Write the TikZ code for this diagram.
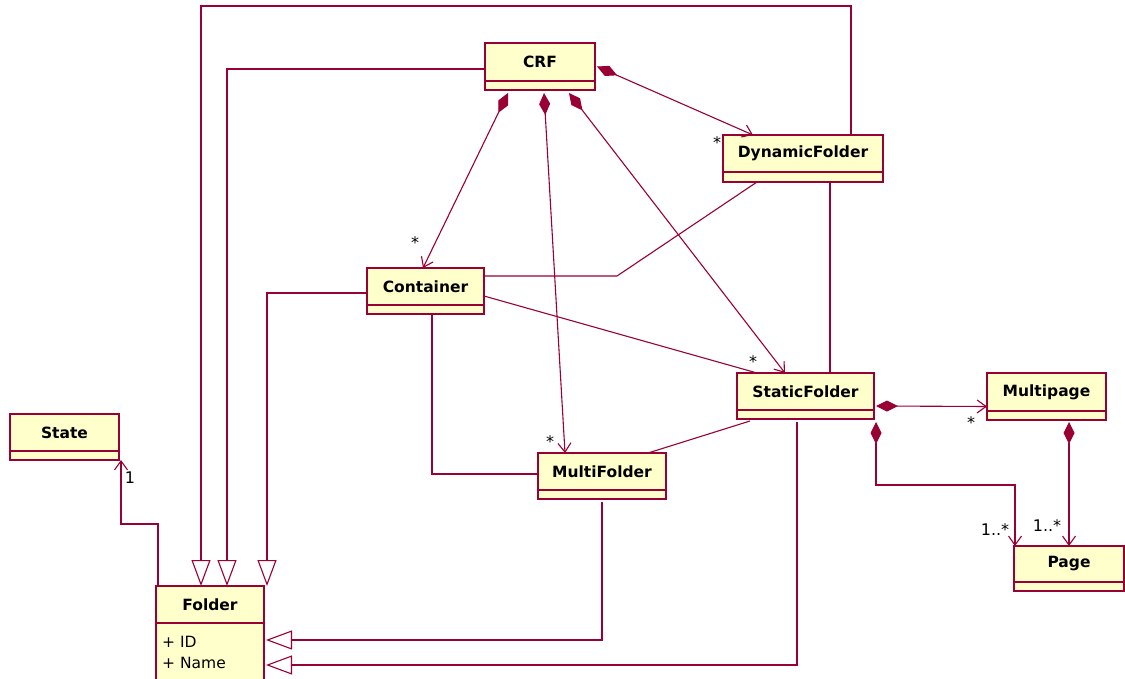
\documentclass[tikz,border=0pt]{standalone}
\usepackage{fontspec}
\setmainfont{DejaVu Sans}
\usetikzlibrary{arrows.meta}
\definecolor{umlred}{RGB}{153,0,51}
\definecolor{umlfill}{RGB}{255,255,204}
\newcommand\umlclass[7]{%
  \node[cls, anchor=north west, minimum width={(#4-#2)*1pt}, minimum height={(#5-#3)*1pt}] (#1) at (#2,#3) {};
  \draw[divider] (#2,#6) -- (#4,#6);
  \node[title] (#1-t) at ({(#2+#4)/2},{(#3+#6)/2}) {#7};
}
\begin{document}
\begin{tikzpicture}[x=1pt,y=-1pt,
  cls/.style={draw=umlred, fill=umlfill, line width=1.2pt, inner sep=0pt, outer sep=0pt},
  divider/.style={draw=umlred, line width=1.2pt},
  title/.style={font=\fontsize{15.5}{18}\selectfont\bfseries, inner sep=0pt},
  attr/.style={font=\fontsize{15.5}{18}\selectfont, inner sep=0pt, anchor=west},
  conn/.style={draw=umlred, line width=1.1pt},
  nav/.style={conn, -{Straight Barb[length=9pt,width=13pt]}},
  comp/.style={conn, {Diamond[length=22pt,width=11pt]}-{Straight Barb[length=9pt,width=13pt]}},
  gen/.style={conn, -{Triangle[open,fill=white,length=26pt,width=19pt]}},
  mult/.style={font=\fontsize{16}{18}\selectfont, inner sep=0pt}]
\useasboundingbox (0,0) rectangle (1125,679);
\fill[white] (0,0) rectangle (1125,679);

% classes
\umlclass{crf}{485}{43}{595}{90}{81}{CRF}
\umlclass{dyn}{723}{135}{883}{182}{172}{DynamicFolder}
\umlclass{container}{367}{268}{484}{314}{305}{Container}
\umlclass{sf}{737}{373}{874}{419}{410}{StaticFolder}
\umlclass{mp}{987}{373}{1106}{420}{411}{Multipage}
\umlclass{page}{1014}{546}{1124}{591}{582}{Page}
\umlclass{state}{10}{414}{119}{460}{451}{State}
\umlclass{mf}{538}{453}{666}{499}{490}{MultiFolder}
\umlclass{folder}{156}{586}{264}{694}{623}{Folder}
\node[attr] (fid) at (162,642) {+ ID};
\node[attr] (fname) at (162,663) {+ Name};

% generalizations
\draw[gen] ([xshift=48pt]dyn.north) |- (201,6) -- ([xshift=-9pt]folder.north);
\draw[gen] ([yshift=-2.5pt]crf.west) -| ([xshift=17pt]folder.north);
\draw[gen] ([yshift=-2pt]container.west) -| ([xshift=57pt]folder.north);
\draw[gen] ([yshift=-3pt]mf.south) |- ([xshift=2pt]folder.east);
\draw[gen] ([xshift=-8.5pt,yshift=-3pt]sf.south) |- ([xshift=2pt,yshift=-25pt]folder.east);

% composition from CRF
\draw[comp] ([xshift=2pt]crf.east) -- ([xshift=-50pt]dyn.north);
\draw[comp] ([xshift=-32pt,yshift=-3pt]crf.south) -- ([xshift=-2.5pt]container.north);
\draw[comp] ([xshift=4pt,yshift=-3pt]crf.south) -- ([xshift=-37pt]mf.north);
\draw[comp] ([xshift=29pt,yshift=-3pt]crf.south) -- ([xshift=-20.5pt]sf.north);

% plain associations
\draw[conn] ([xshift=-46pt]dyn.south) -- (617,276) -- ([yshift=15pt]container.east);
\draw[conn] ([xshift=27pt]dyn.south) -- ([xshift=24.5pt]sf.north);
\draw[conn] ([yshift=-5pt]container.east) -- ([xshift=-48.5pt]sf.north);
\draw[conn] ([xshift=6.5pt]container.south) |- ([yshift=2pt]mf.west);
\draw[conn] ([xshift=-55.5pt,yshift=-2pt]sf.south) -- ([xshift=46pt]mf.north);

% compositions from StaticFolder and Multipage
\draw[comp] ([xshift=2pt,yshift=-10pt]sf.east) -- ([yshift=-10pt]mp.west);
\draw[comp] ([xshift=2pt,yshift=-3pt]sf.south east) |- (1015,485) -- ([xshift=1pt]page.north west);
\draw[comp] ([xshift=22.5pt,yshift=-2pt]mp.south) -- (page.north);

% navigable association to State
\draw[nav] ([xshift=-52pt]folder.north) |- (121,524) -- ([xshift=2pt]state.south east);

% multiplicities
\node[mult] (m1) at (717,143) {*};
\node[mult] (m2) at (415,243) {*};
\node[mult] (m3) at (550,442) {*};
\node[mult] (m4) at (753,362) {*};
\node[mult] (m5) at (971,423) {*};
\node[mult] (m6) at (995,530) {1..*};
\node[mult] (m7) at (1047,526) {1..*};
\node[mult] (m8) at (130,478) {1};
\end{tikzpicture}
\end{document}
